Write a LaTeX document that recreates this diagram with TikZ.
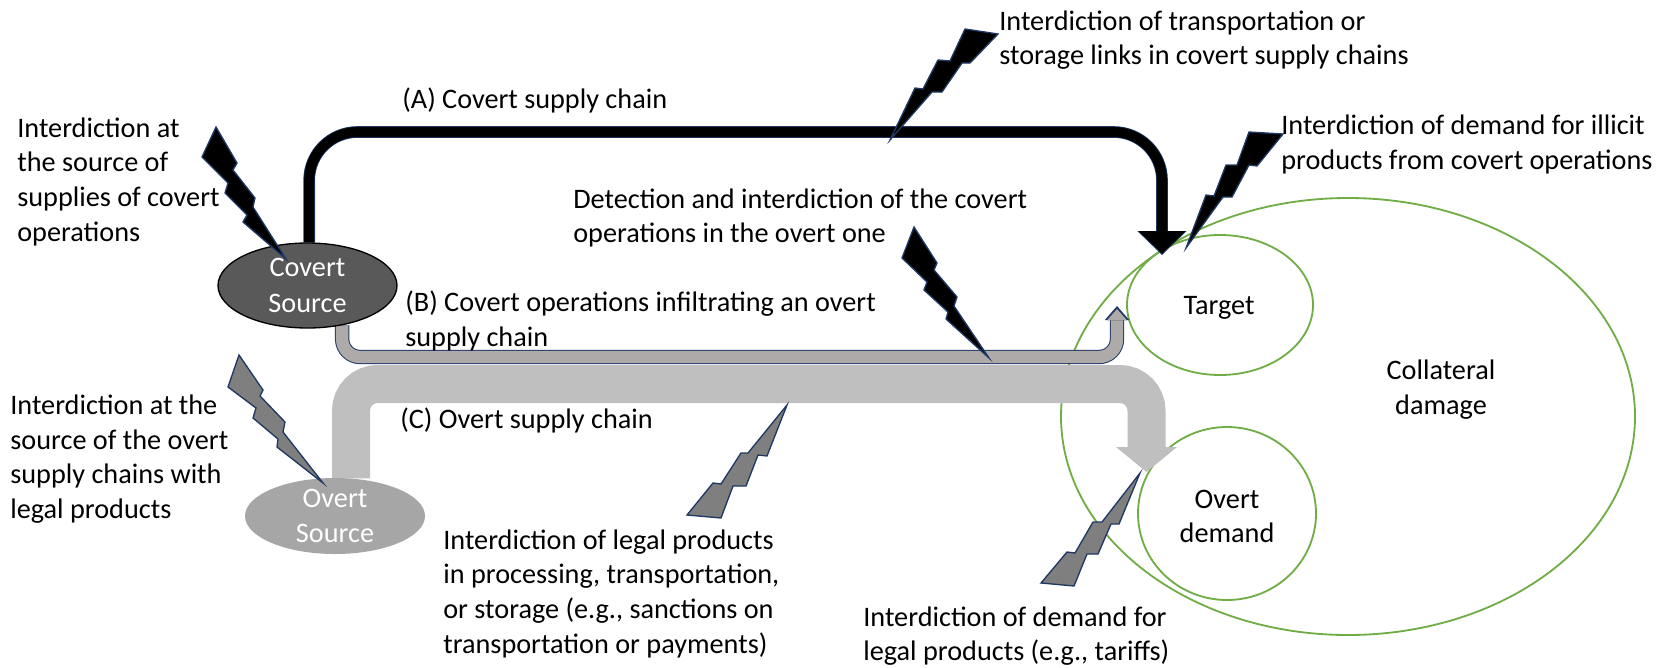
\documentclass[tikz,border=0pt]{standalone}
\usepackage{fontspec}
\setmainfont{Carlito}
\usetikzlibrary{arrows.meta,shapes.geometric}
\pgfdeclarelayer{back}
\pgfdeclarelayer{mid}
\pgfsetlayers{back,mid,main}
\definecolor{navy}{HTML}{1F3864}
\definecolor{leaf}{HTML}{70AD47}
\definecolor{darksrc}{HTML}{595959}
\definecolor{lightsrc}{HTML}{A6A6A6}
\definecolor{covertgrey}{HTML}{AEAAAA}
\definecolor{overtgrey}{HTML}{BFBFBF}
\definecolor{boltgrey}{HTML}{7F7F7F}
\tikzset{
  lab/.style={inner sep=0pt,anchor=west,align=left,font=\fontsize{16.95}{20.8}\selectfont},
  ctr/.style={inner sep=0pt,align=center,font=\fontsize{16.95}{20.8}\selectfont},
  oval/.style={ellipse,draw=leaf,line width=1.1pt,inner sep=0pt,minimum width=#1},
  srcdark/.style={ellipse,draw=black,line width=.8pt,fill=darksrc,text=white,inner sep=0pt,align=center,font=\fontsize{16.95}{20.8}\selectfont},
  srclight/.style={ellipse,fill=lightsrc,text=white,inner sep=0pt,align=center,font=\fontsize{16.95}{20.8}\selectfont},
  boltblack/.style={draw=navy,fill=black,line width=.8pt,line join=miter},
  boltgray/.style={draw=navy,fill=boltgrey,line width=.8pt,line join=miter},
}
\begin{document}
\begin{tikzpicture}[x=0.6pt,y=-0.6pt]
\useasboundingbox (0,0) rectangle (1667,667);
% green ovals
\begin{pgfonlayer}{back}
\node[oval=344.4pt,minimum height=262.2pt] (collateral) at (1348,416.5) {};
\node[oval=111.6pt,minimum height=84pt] (target) at (1220,305) {};
\node[oval=106.8pt,minimum height=103.8pt] (demand) at (1227,513.5) {};
\end{pgfonlayer}
\node[ctr] (collabel) at (1441,389.5) {Collateral\\damage};
\node[ctr] (targetlabel) at (1219,308) {Target};
\node[ctr] (demandlabel) at (1227,516.5) {Overt\\demand};
% sources
\node[srcdark,minimum width=107.4pt,minimum height=51pt] (covert) at (307.5,285.5) {\raisebox{-1.8pt}{\shortstack{Covert\\[7pt]Source}}};
\node[srclight,minimum width=108pt,minimum height=42pt] (overt) at (335,516) {\raisebox{-2.7pt}{\shortstack{Overt\\[7pt]Source}}};
% connector ends
\coordinate (Atip) at (1162,255);
\coordinate (Atipin) at (1162,253.5);
\coordinate (Btip) at (1117,306);
\coordinate (Btipin) at (1117,309);
\coordinate (Ctip) at (1146.5,472);
\coordinate (Aline) at (0,132);
\coordinate (Bline) at (0,357);
\coordinate (Cline) at (0,384);
\begin{pgfonlayer}{mid}
% C
\draw[overtgrey,line width=22.8pt,rounded corners=16pt,-{Triangle[length=15pt,width=36.6pt,line width=0pt]}]
  (overt.67) -- (overt.67 |- Cline) -- (Ctip |- Cline) -- (Ctip);
% B
\draw[navy,line width=8.6pt,rounded corners=10.8pt,-{Triangle[length=8.4pt,width=14.6pt,line width=0pt]}]
  (covert.-49) -- (covert.-49 |- Bline) -- (Btip |- Bline) -- (Btip);
\draw[covertgrey,line width=7.4pt,rounded corners=10.8pt,-{Triangle[length=6.8pt,width=12pt,line width=0pt]}]
  (covert.-49) -- (covert.-49 |- Bline) -- (Btipin |- Bline) -- (Btipin);
% A
\draw[navy,line width=7pt,rounded corners=29pt,-{Triangle[length=14.4pt,width=29.6pt,line width=0pt]}]
  ([xshift=1pt]covert.north) -- ([xshift=1pt]covert.north |- Aline) -- (Atip |- Aline) -- (Atip);
\draw[black,line width=6pt,rounded corners=29pt,-{Triangle[length=13.4pt,width=28pt,line width=0pt]}]
  ([xshift=1pt]covert.north) -- ([xshift=1pt]covert.north |- Aline) -- (Atipin |- Aline) -- (Atipin);
\end{pgfonlayer}
% lightning bolts
\path[boltblack] (216,127)--(237,163)--(233,170)--(255,198)--(253,207)--(286,259)--(243,222)--(247,215)--(225,193)--(228,183)--(202,157)--cycle;
\path[boltgray] (239,355)--(263,390)--(260,396)--(285,422)--(283,432)--(323,483)--(277,447)--(278,439)--(253,418)--(256,408)--(228,387)--cycle;
\path[boltblack] (914,227)--(937,263)--(934,270)--(957,297)--(954,306)--(989,358)--(946,319)--(948,312)--(924,290)--(927,282)--(902,258)--cycle;
\path[boltblack] (965,29)--(998,34)--(970,63)--(962,63)--(942,92)--(932,92)--(890,140)--(915,88)--(923,89)--(938,60)--(950,61)--cycle;
\path[boltblack] (1249,132)--(1283,134)--(1257,166)--(1249,165)--(1232,197)--(1223,197)--(1186,248)--(1206,195)--(1214,196)--(1226,165)--(1237,165)--cycle;
\path[boltgray] (787,405)--(767,456)--(758,455)--(746,486)--(733,486)--(721,518)--(687,515)--(713,483)--(721,484)--(741,453)--(748,453)--cycle;
\path[boltgray] (1140,473)--(1119,524)--(1111,524)--(1098,554)--(1087,554)--(1074,586)--(1041,583)--(1067,552)--(1075,553)--(1093,522)--(1102,522)--cycle;
% labels
\node[lab] (t1) at (17,181.5) {Interdiction at\\the source of\\supplies of covert\\operations};
\node[lab] (t2) at (10,459) {Interdiction at the\\source of the overt\\supply chains with\\legal products};
\node[lab] (t3) at (402,100.5) {(A) Covert supply chain};
\node[lab] (t4) at (405,321) {(B) Covert operations infiltrating an overt\\supply chain};
\node[lab] (t5) at (400,420) {(C) Overt supply chain};
\node[lab] (t6) at (573,218) {Detection and interdiction of the covert\\operations in the overt one};
\node[lab] (t7) at (999,40) {Interdiction of transportation or\\storage links in covert supply chains};
\node[lab] (t8) at (1281,144.5) {Interdiction of demand for illicit\\products from covert operations};
\node[lab] (t9) at (443,593.5) {Interdiction of legal products\\in processing, transportation,\\or storage (e.g., sanctions on\\transportation or payments)};
\node[lab] (t10) at (863,636) {Interdiction of demand for\\legal products (e.g., tariffs)};
\end{tikzpicture}
\end{document}
